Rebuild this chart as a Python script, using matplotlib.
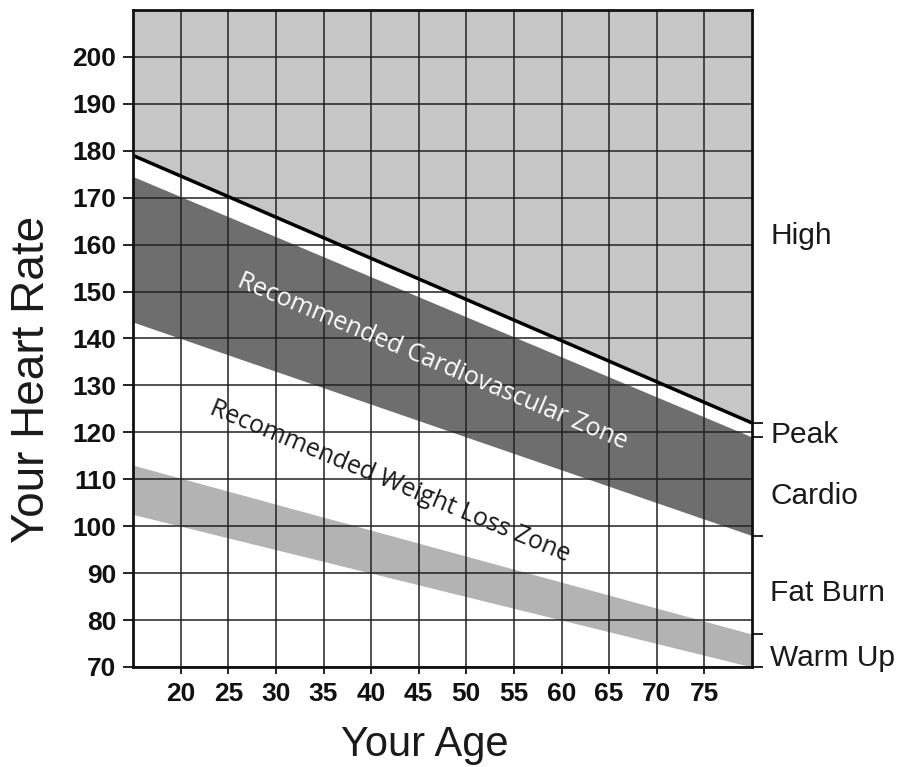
import matplotlib
matplotlib.use("Agg")
import matplotlib.pyplot as plt

# ages at the left and right edge of the chart
ages = [15, 80]

# zone boundaries (beats per minute)
peak_line = [179, 122]
cardio_top = [174.5, 119]
cardio_bottom = [143.5, 98]
fatburn_top = [113, 77]
fatburn_bottom = [102.5, 70]

x_ticks = [20, 25, 30, 35, 40, 45, 50, 55, 60, 65, 70, 75]
y_ticks = [70, 80, 90, 100, 110, 120, 130, 140, 150, 160, 170, 180, 190, 200]
y_tick_labels = ["70", "80", "90", "100", "110", "120", "130", "140", "150",
                 "160", "170", "180", "190", "200"]

zone_names = ["High", "Peak", "Cardio", "Fat Burn", "Warm Up"]
zone_label_y = [162.5, 120, 107, 86.5, 72.5]
zone_edges = [122, 119, 98, 77, 70]

tick_font = ["Liberation Sans Narrow", "DejaVu Sans Condensed", "Liberation Sans"]
text_font = ["Liberation Sans", "DejaVu Sans"]

fig = plt.figure(figsize=(8.99, 7.67), dpi=100)
ax = fig.add_axes([0.148, 0.1304, 0.6885, 0.8566])
ax.set_xlim(15, 80)
ax.set_ylim(70, 210)

# shaded zones
ax.fill_between(ages, peak_line, [210, 210], color="#c6c6c6", lw=0, zorder=1)
ax.fill_between(ages, cardio_bottom, cardio_top, color="#6e6e6e", lw=0, zorder=1)
ax.fill_between(ages, fatburn_bottom, fatburn_top, color="#b3b3b3", lw=0, zorder=1)

# grid
ax.set_xticks(x_ticks)
ax.set_yticks(y_ticks, y_tick_labels)
ax.grid(True, color="#222222", lw=1.1, zorder=2)
ax.set_axisbelow(False)

ax.plot(ages, peak_line, color="black", lw=2.5, zorder=3, solid_capstyle="butt")

for s in ax.spines.values():
    s.set_linewidth(2)
    s.set_color("#111111")
    s.set_zorder(4)

ax.tick_params(axis="y", direction="out", length=7, width=1.2, pad=5, labelsize=19)
ax.tick_params(axis="x", direction="out", length=5, width=1.2, pad=6, labelsize=19)
for lab in ax.get_xticklabels() + ax.get_yticklabels():
    lab.set_family(tick_font)
    lab.set_fontweight("bold")
    lab.set_color("#111111")

ax.set_xlabel("Your Age", family=text_font, fontsize=30, color="#1a1a1a")
ax.set_ylabel("Your Heart Rate", family=text_font, fontsize=33, color="#1a1a1a")
ax.xaxis.set_label_coords(0.472, -0.088)
ax.yaxis.set_label_coords(-0.127, 0.438)

# zone names on the right side
ax2 = ax.twinx()
ax2.set_ylim(70, 210)
ax2.set_yticks(zone_label_y, zone_names)
ax2.set_yticks(zone_edges, minor=True)
ax2.tick_params(axis="y", which="major", length=0, pad=13, labelsize=21.5)
ax2.tick_params(axis="y", which="minor", length=8, width=1.2, direction="out")
for lab in ax2.get_yticklabels():
    lab.set_family(text_font)
    lab.set_color("#1a1a1a")
for s in ax2.spines.values():
    s.set_visible(False)

# zone captions along the bands
ax.text(46.4, 135, "Recommended Cardiovascular Zone", family=["Open Sans", "DejaVu Sans"],
        fontsize=18, color="white", rotation=-22.8, rotation_mode="anchor",
        ha="center", va="center", zorder=5)
ax.text(42, 109.5, "Recommended Weight Loss Zone", family=["Open Sans", "DejaVu Sans"],
        fontsize=18, color="#1a1a1a", rotation=-22.5, rotation_mode="anchor",
        ha="center", va="center", zorder=5)

fig.savefig("out.png", dpi=100)
